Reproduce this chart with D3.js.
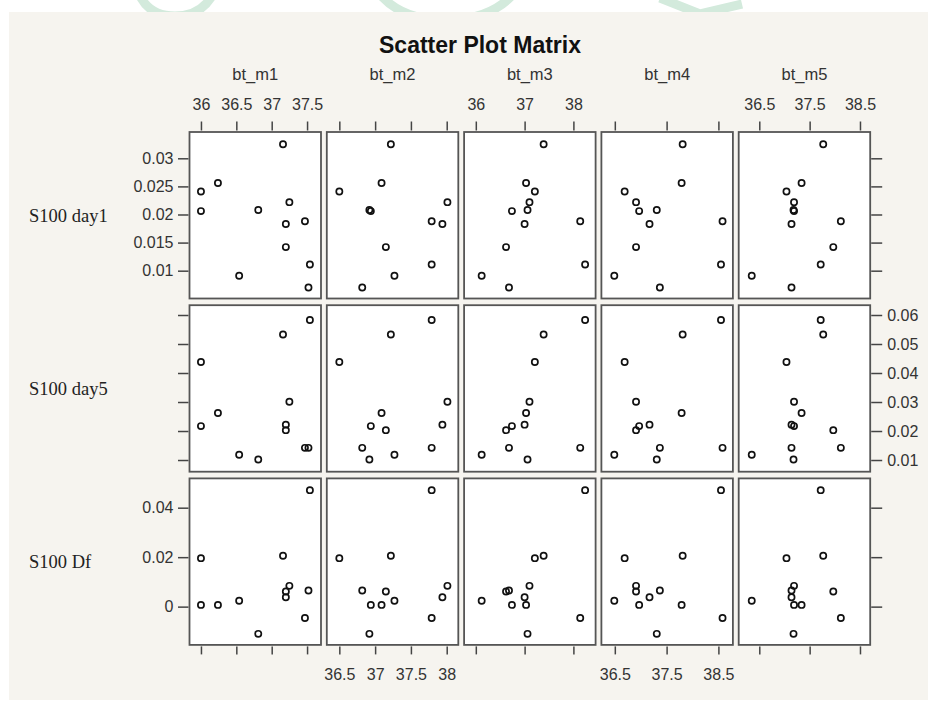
<!DOCTYPE html>
<html>
<head>
<meta charset="utf-8">
<script src="https://cdn.jsdelivr.net/npm/d3@7"></script>
<style>
  body { margin: 0; background: #fff; }
  svg { display: block; }
</style>
</head>
<body>
<svg id="splom" width="928" height="701"></svg>
<script>
// 12 subjects, same order in every array
let bt_m1 = [37.16, 36.00, 36.24, 36.00, 36.81, 37.25, 37.20, 37.47, 37.20, 37.54, 36.54, 37.52];
let bt_m2 = [37.22, 36.50, 37.09, 36.94, 36.92, 38.01, 37.94, 37.79, 37.15, 37.79, 37.27, 36.82];
let bt_m3 = [37.39, 37.21, 37.03, 36.74, 37.06, 37.10, 37.00, 38.14, 36.62, 38.24, 36.12, 36.68];
let bt_m4 = [37.81, 36.69, 37.79, 36.97, 37.31, 36.91, 37.17, 38.58, 36.91, 38.55, 36.49, 37.37];
let bt_m5 = [37.77, 37.04, 37.34, 37.19, 37.18, 37.19, 37.14, 38.12, 37.97, 37.72, 36.35, 37.14];

let day1 = [0.0325, 0.0241, 0.0256, 0.0206, 0.0208, 0.0222, 0.0183, 0.0188, 0.0142, 0.0111, 0.0091, 0.0070];
let day5 = [0.0533, 0.0438, 0.0262, 0.0217, 0.0102, 0.0301, 0.0222, 0.0142, 0.0203, 0.0583, 0.0118, 0.0142];
let df   = [0.0206, 0.0196, 0.0007, 0.0007, -0.0110, 0.0084, 0.0038, -0.0046, 0.0061, 0.0471, 0.0024, 0.0065];

let colNames = ['bt_m1', 'bt_m2', 'bt_m3', 'bt_m4', 'bt_m5'];
let rowNames = ['S100 day1', 'S100 day5', 'S100 Df'];

let colTicks = [[36, 36.5, 37, 37.5], [36.5, 37, 37.5, 38], [36, 37, 38], [36.5, 37.5, 38.5], [36.5, 37.5, 38.5]];
let rowTicks = [[0.01, 0.015, 0.02, 0.025, 0.03], [0.01, 0.02, 0.03, 0.04, 0.05, 0.06], [0, 0.02, 0.04]];

let colDomains = [[35.838, 37.697], [36.325, 38.162], [35.760, 38.455], [36.241, 38.780], [36.091, 38.703]];
let rowDomains = [[0.00505, 0.03468], [0.00597, 0.06338], [-0.01547, 0.05184]];

let xData = [bt_m1, bt_m2, bt_m3, bt_m4, bt_m5];
let yData = [day1, day5, df];

let svg = d3.select('#splom');
let width = 928, height = 701;
let panelW = 131.5, panelH = 166.5;
let panelLeft = 189.5, panelTop = 132;
let stepX = 137.3, stepY = 173.2;
let font = "'Liberation Sans', Arial, sans-serif";

// page background
svg.append('rect').attr('x', 0).attr('y', 0).attr('width', width).attr('height', height).attr('fill', '#fff');

// faint watermark bits, only visible in the white strip at the top
svg.append('clipPath').attr('id', 'topstrip')
    .append('rect').attr('x', 0).attr('y', 0).attr('width', width).attr('height', 12);
let wm = svg.append('g').attr('clip-path', 'url(#topstrip)')
    .attr('fill', 'none').attr('stroke', '#d3eadc').attr('stroke-width', 9);
wm.append('path').attr('d', 'M140,-4 Q150,16 175,16 Q200,16 212,-4');
wm.append('path').attr('d', 'M378,-8 Q400,20 445,20 Q492,20 515,-8');
wm.append('path').attr('d', 'M660,-2 L700,14 L742,4');

svg.append('rect').attr('x', 9).attr('y', 12).attr('width', width - 9).attr('height', 688).attr('fill', '#f6f4ef');

svg.append('text')
    .attr('x', 480).attr('y', 52.5)
    .attr('text-anchor', 'middle')
    .style('font-family', font).style('font-weight', 'bold').style('font-size', '23px')
    .attr('fill', '#111')
    .text('Scatter Plot Matrix');

function styleAxis(g) {
    g.select('.domain').remove();
    g.selectAll('.tick line').attr('stroke', '#444').attr('stroke-width', 1.5);
    g.selectAll('.tick text').attr('fill', '#333').style('font-family', font).style('font-size', '16px');
}

colNames.forEach((name, ci) => {
    let x0 = panelLeft + ci * stepX;
    let x = d3.scaleLinear().domain(colDomains[ci]).range([x0, x0 + panelW]);
    let labelTop = ci % 2 === 0;

    svg.append('text')
        .attr('x', x0 + panelW / 2).attr('y', 80)
        .attr('text-anchor', 'middle')
        .style('font-family', font).style('font-size', '16.5px')
        .attr('fill', '#333')
        .text(name);

    svg.append('g')
        .attr('transform', `translate(0, ${panelTop - 1.5})`)
        .call(d3.axisTop(x).tickValues(colTicks[ci]).tickSize(9).tickPadding(11.5)
            .tickFormat(d => labelTop ? String(d) : ''))
        .call(styleAxis);

    let bottom = panelTop + 2 * stepY + panelH;
    svg.append('g')
        .attr('transform', `translate(0, ${bottom + 1.5})`)
        .call(d3.axisBottom(x).tickValues(colTicks[ci]).tickSize(8).tickPadding(14)
            .tickFormat(d => labelTop ? '' : String(d)))
        .call(styleAxis);
});

rowNames.forEach((name, ri) => {
    let y0 = panelTop + ri * stepY;
    let y = d3.scaleLinear().domain(rowDomains[ri]).range([y0 + panelH, y0]);
    let labelLeft = ri % 2 === 0;

    svg.append('text')
        .attr('x', 29).attr('y', y0 + panelH / 2)
        .attr('dy', '0.35em')
        .style('font-family', "'Liberation Serif', 'Times New Roman', serif").style('font-size', '18.5px')
        .attr('fill', '#222')
        .text(name);

    svg.append('g')
        .attr('transform', `translate(${panelLeft - 1}, 0)`)
        .call(d3.axisLeft(y).tickValues(rowTicks[ri]).tickSize(10.5).tickPadding(4.5)
            .tickFormat(d => labelLeft ? String(d) : ''))
        .call(styleAxis);

    let right = panelLeft + 4 * stepX + panelW;
    svg.append('g')
        .attr('transform', `translate(${right + 1}, 0)`)
        .call(d3.axisRight(y).tickValues(rowTicks[ri]).tickSize(11).tickPadding(5)
            .tickFormat(d => labelLeft ? '' : String(d)))
        .call(styleAxis);

    colNames.forEach((cname, ci) => {
        let x0 = panelLeft + ci * stepX;
        let x = d3.scaleLinear().domain(colDomains[ci]).range([x0, x0 + panelW]);
        let g = svg.append('g');

        g.append('rect')
            .attr('x', x0).attr('y', y0)
            .attr('width', panelW).attr('height', panelH)
            .attr('fill', '#fff')
            .attr('stroke', '#555')
            .attr('stroke-width', 1.8);

        let pts = xData[ci].map((v, i) => ({ x: v, y: yData[ri][i] }));
        g.selectAll('circle')
            .data(pts)
            .enter()
            .append('circle')
            .attr('cx', d => x(d.x))
            .attr('cy', d => y(d.y))
            .attr('r', 3.1)
            .attr('fill', 'none')
            .attr('stroke', '#111')
            .attr('stroke-width', 1.7);
    });
});
</script>
</body>
</html>
